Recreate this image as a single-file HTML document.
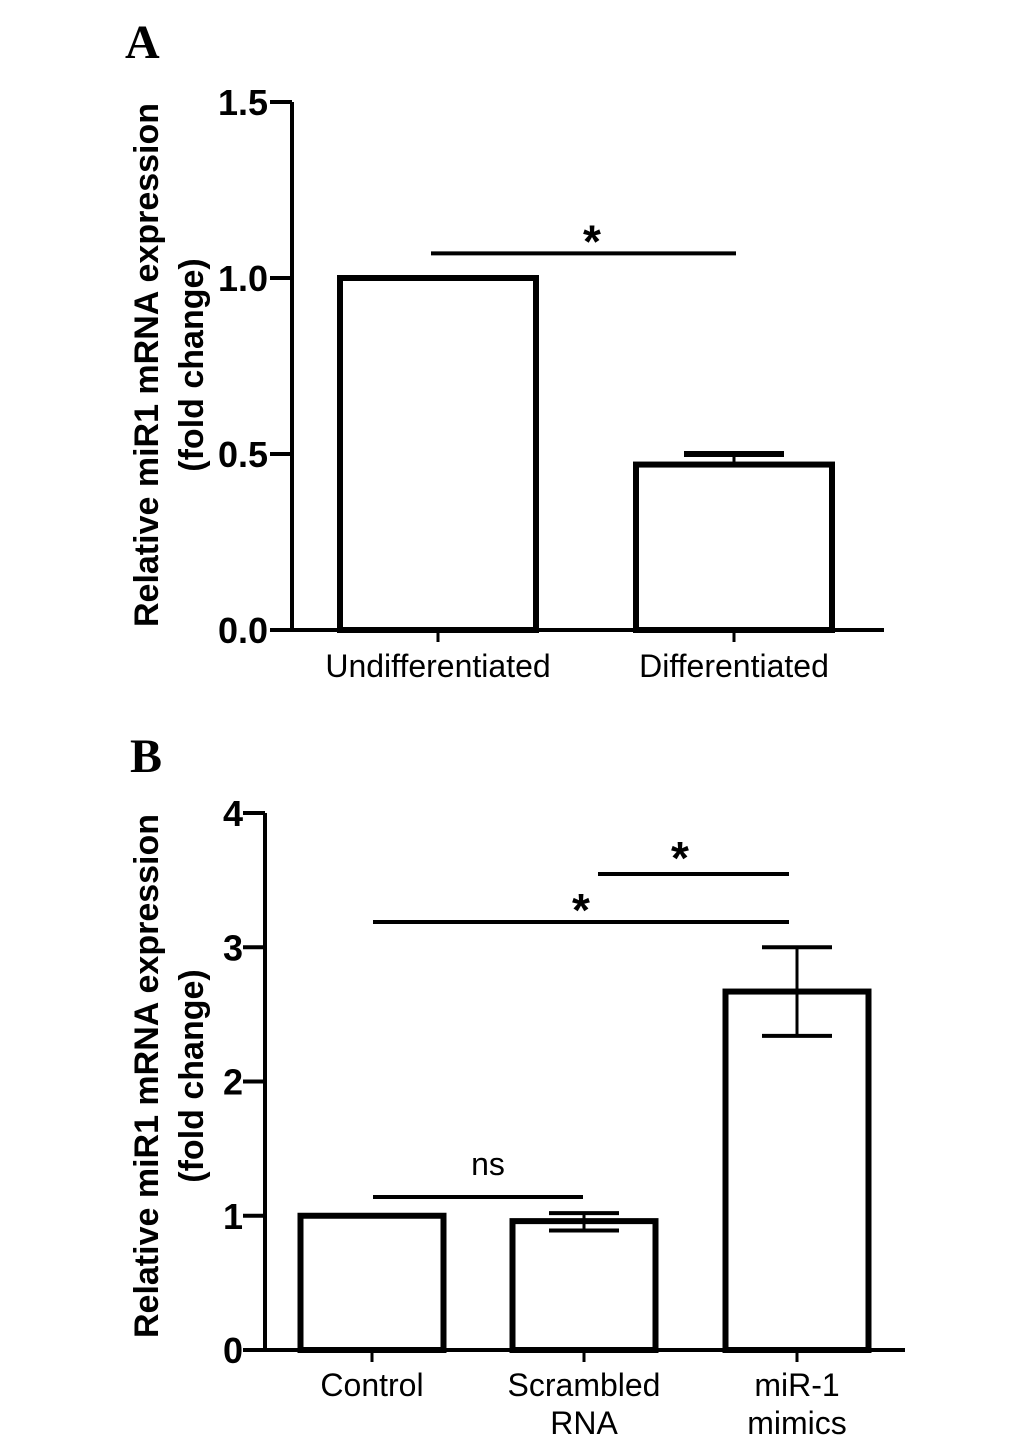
<!DOCTYPE html>
<html><head><meta charset="utf-8"><style>
html,body{margin:0;padding:0;background:#fff}
svg{display:block}
text{font-family:"Liberation Sans",Arial,sans-serif;fill:#000}
</style></head><body>
<svg id="fig" width="1033" height="1450" viewBox="0 0 1033 1450" xmlns="http://www.w3.org/2000/svg">
<text x="125" y="58" font-weight="bold" font-size="48" style="font-family:'Liberation Serif',serif">A</text>
<text x="130" y="772" font-weight="bold" font-size="48" style="font-family:'Liberation Serif',serif">B</text>
<g id="chartA"></g>
<g id="chartB"></g>
</svg>
<script>
const NS="http://www.w3.org/2000/svg";
// Panel A data
const catsA=["Undifferentiated","Differentiated"];
const valsA=[1.0,0.47];
const errA=[0,0.03];
const ticksA=[0,0.5,1.0,1.5];
const tickLabelsA=["0.0","0.5","1.0","1.5"];
// Panel B data
const catsB=[["Control"],["Scrambled","RNA"],["miR-1","mimics"]];
const valsB=[1.0,0.96,2.67];
const errUpB=[0,0.06,0.33];
const errDnB=[0,0.07,0.33];
const ticksB=[0,1,2,3,4];
const tickLabelsB=["0","1","2","3","4"];

function el(p,tag,attrs,name){const e=document.createElementNS(NS,tag);for(const k in attrs)e.setAttribute(k,attrs[k]);


p.appendChild(e);return e;}
function line(p,x1,y1,x2,y2,w,name){return el(p,"line",{x1,y1,x2,y2,stroke:"#000","stroke-width":w},name);}
function txt(p,x,y,s,size,anchor,weight,name){const t=el(p,"text",{x,y,"font-size":size,"text-anchor":anchor,"font-weight":weight},name);t.textContent=s;return t;}

// Panel A
(function(){
const g=document.getElementById("chartA");
const x0=292,xEnd=884,y0=630,yTop=102,ymax=1.5;
const y=v=>y0-(v/ymax)*(y0-yTop);
const centers=[438,734],bw=196;
line(g,x0,yTop,x0,y0+2,4,"y-axis");
line(g,x0-22,y0,xEnd,y0,4,"x-axis");
ticksA.forEach((t,i)=>{line(g,x0-22,y(t),x0,y(t),4,"y-tick");
txt(g,x0-24,y(t)+13,tickLabelsA[i],36,"end","bold","y-tick-label");});
catsA.forEach((c,i)=>{const cx=centers[i];
line(g,cx,y0,cx,y0+12,3,"x-tick");
txt(g,cx,y0+47,c,32,"middle","normal","x-label");
if(errA[i]>0){line(g,cx,y(valsA[i]),cx,y(valsA[i]+errA[i]),3,"error-bar");
line(g,cx-50,y(valsA[i]+errA[i]),cx+50,y(valsA[i]+errA[i]),6,"error-cap");}
el(g,"rect",{x:cx-bw/2,y:y(valsA[i]),width:bw,height:y0-y(valsA[i]),fill:"none",stroke:"#000","stroke-width":6},"bar-"+c.toLowerCase());
});
line(g,431,y(1.07),736,y(1.07),4,"significance-line");
txt(g,592,y(1.07)+4,"*",46,"middle","bold","significance-star");
const t=txt(g,0,0,"Relative miR1 mRNA expression",34,"middle","bold","y-axis-title");t.setAttribute("transform","translate(158,365) rotate(-90)");
const t2=txt(g,0,0,"(fold change)",34,"middle","bold","y-axis-title-2");t2.setAttribute("transform","translate(203,365) rotate(-90)");
})();

// Panel B
(function(){
const g=document.getElementById("chartB");
const x0=265,xEnd=905,y0=1350,yTop=813,ymax=4;
const y=v=>y0-(v/ymax)*(y0-yTop);
const centers=[372,584,797],bw=143;
line(g,x0,yTop,x0,y0+2,4,"y-axis");
line(g,x0-22,y0,xEnd,y0,4,"x-axis");
ticksB.forEach((t,i)=>{line(g,x0-22,y(t),x0,y(t),4,"y-tick");
txt(g,x0-22,y(t)+13,tickLabelsB[i],36,"end","bold","y-tick-label");});
catsB.forEach((c,i)=>{const cx=centers[i];
line(g,cx,y0,cx,y0+12,3,"x-tick");
c.forEach((s,j)=>txt(g,cx,y0+46+j*38,s,32,"middle","normal","x-label"));
if(errUpB[i]>0){const hi=valsB[i]+errUpB[i],lo=valsB[i]-errDnB[i];
line(g,cx,y(hi),cx,y(lo),3,"error-bar");
line(g,cx-35,y(hi),cx+35,y(hi),4,"error-cap-top");
line(g,cx-35,y(lo),cx+35,y(lo),4,"error-cap-bottom");}
el(g,"rect",{x:cx-bw/2,y:y(valsB[i]),width:bw,height:y0-y(valsB[i]),fill:"none",stroke:"#000","stroke-width":6},"bar-"+c.join("-").toLowerCase());
});
line(g,373,1197,583,1197,4,"ns-line");
txt(g,488,1175,"ns",32,"middle","normal","ns-label");
line(g,373,922,789,922,4,"significance-line-1");
txt(g,581,926,"*",46,"middle","bold","significance-star-1");
line(g,598,874,789,874,4,"significance-line-2");
txt(g,680,874,"*",46,"middle","bold","significance-star-2");
const t=txt(g,0,0,"Relative miR1 mRNA expression",34,"middle","bold","y-axis-title");t.setAttribute("transform","translate(158,1076) rotate(-90)");
const t2=txt(g,0,0,"(fold change)",34,"middle","bold","y-axis-title-2");t2.setAttribute("transform","translate(203,1076) rotate(-90)");
})();
</script>
</body></html>
